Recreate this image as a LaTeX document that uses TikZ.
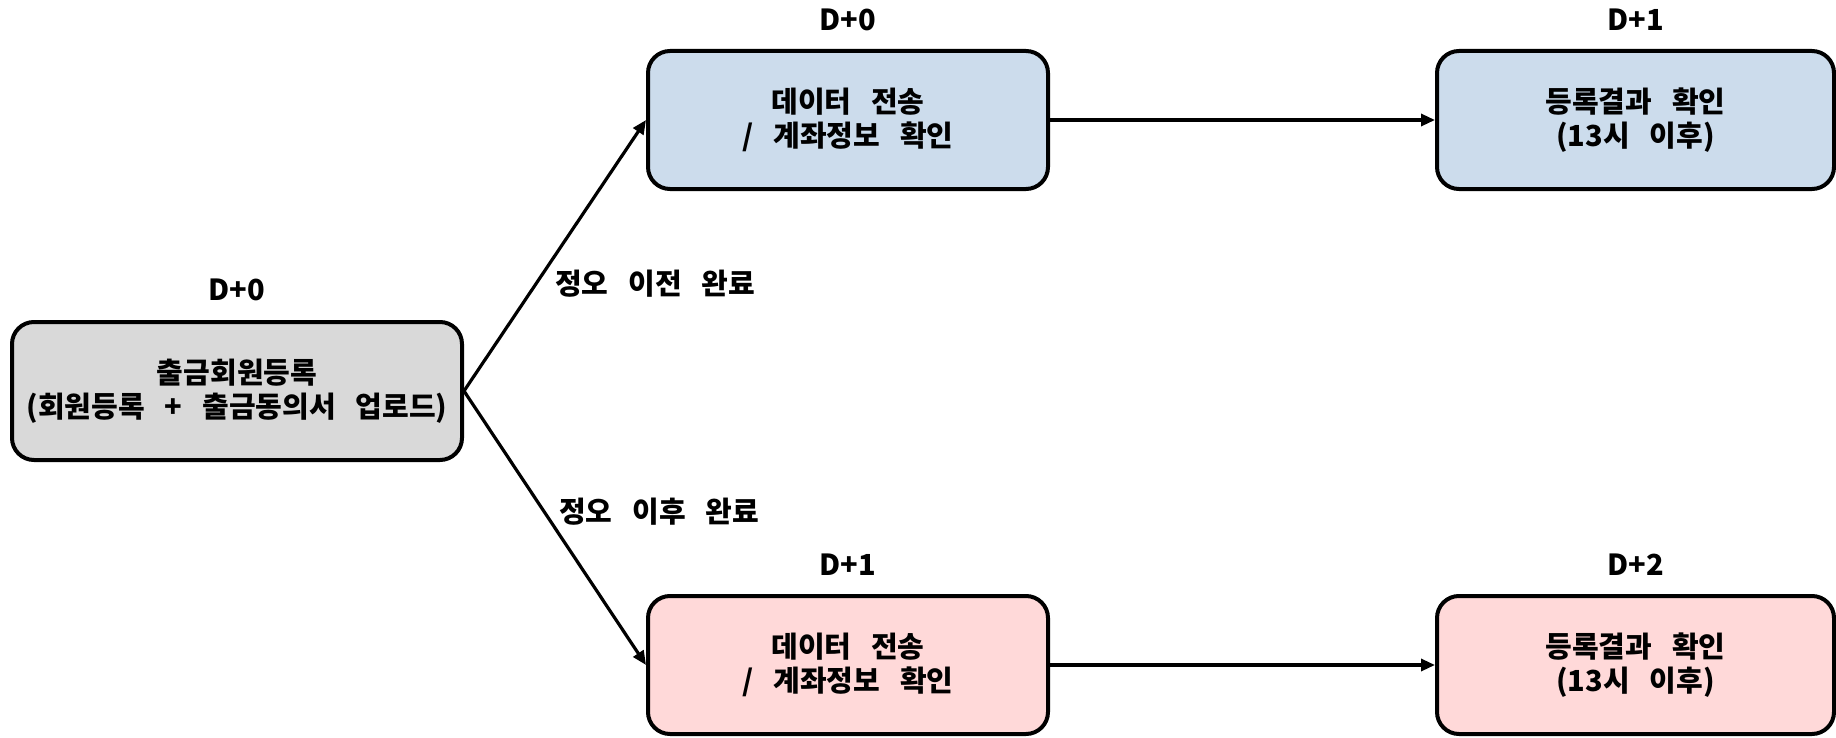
\documentclass[tikz,border=0pt]{standalone}
\usepackage{fontspec}
\setmainfont{Noto Sans CJK KR}[WordSpace=3]
\usetikzlibrary{arrows.meta}
\definecolor{boxgray}{RGB}{217,217,217}
\definecolor{boxblue}{RGB}{204,220,236}
\definecolor{boxpink}{RGB}{255,217,217}
\begin{document}
\begin{tikzpicture}[x=0.5pt,y=-0.5pt,
  txt/.style={font=\fontsize{14.5}{17}\selectfont\bfseries},
  box/.style={txt, draw=black, line width=2pt, rounded corners=11pt, align=center, inner sep=0pt, minimum height=69pt},
  lbl/.style={txt, inner sep=0pt},
  arr/.style={line width=1.6pt, -{Triangle[length=7pt,width=6pt]}}]
\useasboundingbox (0,0) rectangle (1836,738);
\node[box, fill=boxgray, minimum width=225pt] (reg) at (237,391) {출금회원등록\\(회원등록 + 출금동의서 업로드)};
\node[box, fill=boxblue, minimum width=200pt] (ta) at (848,120) {데이터 전송\\/ 계좌정보 확인};
\node[box, fill=boxblue, minimum width=198.5pt] (tb) at (1635.5,120) {등록결과 확인\\(13시 이후)};
\node[box, fill=boxpink, minimum width=200pt] (ba) at (848,665) {데이터 전송\\/ 계좌정보 확인};
\node[box, fill=boxpink, minimum width=198.5pt] (bb) at (1635.5,665) {등록결과 확인\\(13시 이후)};
\node[lbl] (dreg) at (237,290) {D+0};
\node[lbl] (dta) at (848,20) {D+0};
\node[lbl] (dtb) at (1635.5,20) {D+1};
\node[lbl] (dba) at (848,565) {D+1};
\node[lbl] (dbb) at (1635.5,565) {D+2};
\node[lbl] (before) at (655,284) {정오 이전 완료};
\node[lbl] (after) at (659,512) {정오 이후 완료};
\draw[arr] (reg.east) -- (ta.west);
\draw[arr] (reg.east) -- (ba.west);
\draw[arr] (ta.east) -- (tb.west);
\draw[arr] (ba.east) -- (bb.west);
\end{tikzpicture}
\end{document}
